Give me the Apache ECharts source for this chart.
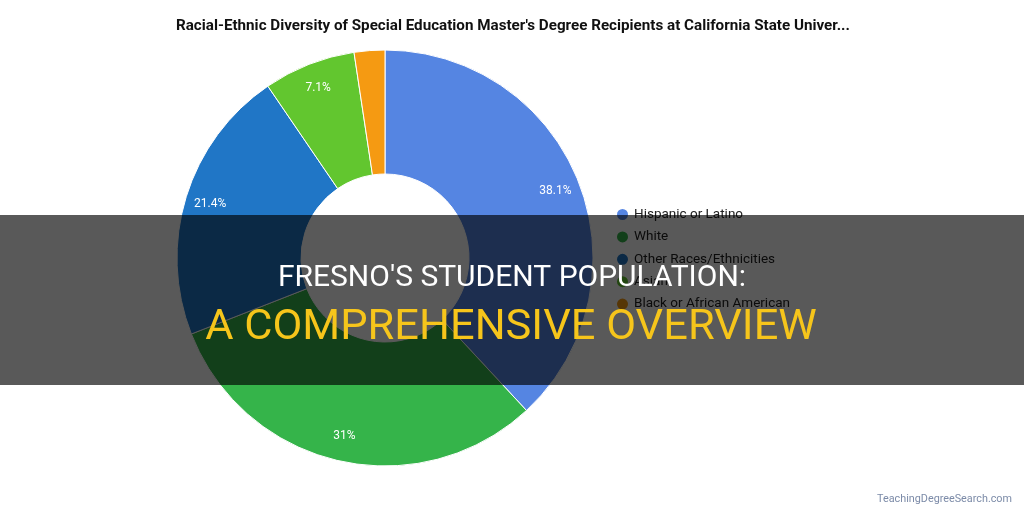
<!DOCTYPE html>
<html><head><meta charset="utf-8">
<script src="https://cdn.jsdelivr.net/npm/echarts@6/dist/echarts.min.js"></script>
<style>html,body{margin:0;padding:0;background:#fff}#c{width:1024px;height:512px}</style>
</head><body><div id="c"></div>
<script>
const categories = ['Hispanic or Latino', 'White', 'Other Races/Ethnicities', 'Asian', 'Black or African American'];
const values = [16, 13, 9, 3, 1];
const colors = ['#5585e2', '#35b44a', '#2076c6', '#62c62f', '#f59a12'];
const titleText = "Racial-Ethnic Diversity of Special Education Master's Degree Recipients at California State Univer...";
const headline1 = "FRESNO'S STUDENT POPULATION:";
const headline2 = "A COMPREHENSIVE OVERVIEW";
const watermark = "TeachingDegreeSearch.com";

const total = values.reduce((a, b) => a + b, 0);
const data = categories.map((n, i) => ({ name: n, value: values[i], itemStyle: { color: colors[i] } }));
const labelData = categories.map((n, i) => ({ name: n, value: values[i] }));

const chart = echarts.init(document.getElementById('c'), null, { renderer: 'canvas' });
chart.setOption({
  animation: false,
  backgroundColor: '#fff',
  title: {
    text: titleText, left: 176, top: 19, padding: 0,
    textStyle: { fontFamily: 'Roboto', fontSize: 15.2, fontWeight: 'bold', color: '#111' }
  },
  legend: {
    orient: 'vertical', left: 615, top: 207, itemGap: 7.4, padding: 0,
    icon: 'circle', itemWidth: 13, itemHeight: 13,
    data: categories,
    textStyle: { fontFamily: 'Roboto', fontSize: 13.5, color: '#222' }
  },
  series: [
    {
      type: 'pie', center: [385, 258], radius: [84, 208], startAngle: 90, clockwise: true,
      data: data, silent: true,
      itemStyle: { borderColor: '#fff', borderWidth: 1 },
      label: { show: false }, labelLine: { show: false }
    },
    {
      type: 'pie', center: [385, 258], radius: [152, 208], startAngle: 90, clockwise: true,
      data: labelData, silent: true, legendHoverLink: false,
      itemStyle: { color: 'rgba(0,0,0,0)' },
      label: {
        show: true, position: 'inside', color: '#fff', fontFamily: 'Roboto', fontSize: 12,
        formatter: p => {
          const pct = p.value / total * 100;
          if (pct < 5) return '';
          const r = Math.round(pct * 10) / 10;
          return (r % 1 === 0 ? r.toFixed(0) : r.toFixed(1)) + '%';
        }
      },
      labelLine: { show: false }
    }
  ],
  graphic: [
    { type: 'rect', z: 100, shape: { x: 0, y: 215, width: 1024, height: 170 }, style: { fill: 'rgba(0,0,0,0.65)' } },
    { type: 'text', z: 101, x: 512, y: 278, scaleX: 1.0, originX: 0, originY: 0,
      style: { text: headline1, fill: '#ffffff', font: '30px Roboto', textAlign: 'center', textVerticalAlign: 'middle' } },
    { type: 'text', z: 101, x: 511, y: 328, scaleX: 1.0, originX: 0, originY: 0,
      style: { text: headline2, fill: '#f6c51b', font: '43.4px Roboto', textAlign: 'center', textVerticalAlign: 'middle' } },
    { type: 'text', z: 101, right: 12, top: 494,
      style: { text: watermark, fill: '#7c8ba8', font: '10.8px Roboto' } }
  ]
});
</script></body></html>
